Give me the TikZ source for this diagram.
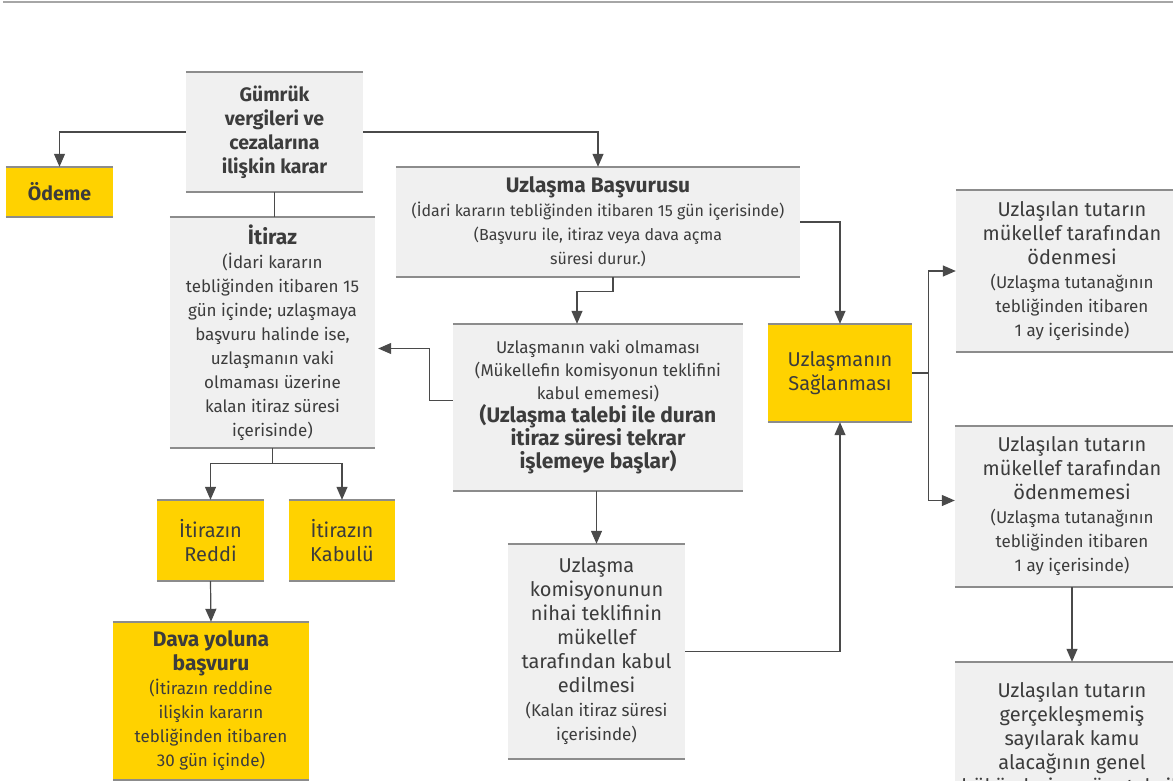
\documentclass[tikz,border=0pt]{standalone}
\usepackage{fontspec}
\setmainfont{Fira Sans}
\usetikzlibrary{positioning, arrows.meta, calc}

\definecolor{kutugri}{HTML}{F0F0F0}
\definecolor{sarirenk}{HTML}{FFD200}
\definecolor{yazi}{HTML}{3C3C3C}
\definecolor{cizgi}{HTML}{4A4A4A}
\definecolor{kenarrenk}{HTML}{8C8C8C}

\newcommand{\kck}{\fontsize{16}{24}\selectfont}
\newcommand{\orta}{\fontsize{17}{24}\selectfont}
\newcommand{\byk}{\fontsize{20}{24}\selectfont}
\newcommand{\baslik}{\fontsize{21}{24}\selectfont\bfseries}
\newcommand{\ustbaslik}{\fontsize{19.5}{24}\selectfont\bfseries}

\begin{document}
\begin{tikzpicture}[x=1pt, y=-1pt,
    kutu/.style={fill=kutugri, text=yazi, align=center, inner sep=0pt, font=\orta},
    sarikutu/.style={kutu, fill=sarirenk},
    ok/.style={draw=cizgi, line width=1.2pt, -{Triangle[length=13pt,width=11pt]}},
    hat/.style={draw=cizgi, line width=1.2pt},
    kenar/.style={draw=kenarrenk, line width=2pt}]

    \clip (0,0) rectangle (1173,781);
    \draw[draw=gray!70, line width=2pt] (3,2) -- (1173,2);

    % kutular
    \node[kutu, font=\ustbaslik, minimum width=177pt, minimum height=120pt] (karar) at (274.5,132) {Gümrük\\vergileri ve\\cezalarına\\ilişkin karar};
    \node[sarikutu, font=\ustbaslik, minimum width=107pt, minimum height=50pt] (odeme) at (59.5,192) {Ödeme};
    \node[kutu, font=\kck, minimum width=404pt, minimum height=110pt] (basvuru) at (598,222) {{\baslik Uzlaşma Başvurusu}\\(İdari kararın tebliğinden itibaren 15 gün içerisinde)\\(Başvuru ile, itiraz veya dava açma\\süresi durur.)};
    \node[kutu, minimum width=205pt, minimum height=231pt] (itiraz) at (272.5,332.5) {{\baslik İtiraz}\\(İdari kararın\\tebliğinden itibaren 15\\gün içinde; uzlaşmaya\\başvuru halinde ise,\\uzlaşmanın vaki\\olmaması üzerine\\kalan itiraz süresi\\içerisinde)};
    \node[kutu, font=\fontsize{17}{23}\selectfont, minimum width=290pt, minimum height=167pt] (vaki) at (598,407.5) {Uzlaşmanın vaki olmaması\\(Mükellefin komisyonun teklifini\\kabul ememesi)\\{\baslik (Uzlaşma talebi ile duran}\\{\baslik itiraz süresi tekrar}\\{\baslik işlemeye başlar)}};
    \node[sarikutu, font=\byk, minimum width=144pt, minimum height=98pt] (saglanma) at (840,373) {Uzlaşmanın\\Sağlanması};
    \node[kutu, font=\byk, minimum width=232pt, minimum height=162pt] (odenmesi) at (1072,271) {Uzlaşılan tutarın\\mükellef tarafından\\ödenmesi\\{\orta (Uzlaşma tutanağının}\\{\orta tebliğinden itibaren}\\{\orta 1 ay içerisinde)}};
    \node[kutu, font=\byk, minimum width=234pt, minimum height=161pt] (odenmemesi) at (1072,506.5) {Uzlaşılan tutarın\\mükellef tarafından\\ödenmemesi\\{\orta (Uzlaşma tutanağının}\\{\orta tebliğinden itibaren}\\{\orta 1 ay içerisinde)}};
    \node[kutu, font=\byk, minimum width=234pt, minimum height=156pt] (gercek) at (1072,740) {Uzlaşılan tutarın\\gerçekleşmemiş\\sayılarak kamu\\alacağının genel\\hükümlerine göre tahsili};
    \node[sarikutu, font=\byk, minimum width=107pt, minimum height=81pt] (reddi) at (210.5,540.5) {İtirazın\\Reddi};
    \node[sarikutu, font=\byk, minimum width=106pt, minimum height=81pt] (kabulu) at (342,540.5) {İtirazın\\Kabulü};
    \node[sarikutu, minimum width=196pt, minimum height=158pt] (dava) at (211,701) {{\baslik Dava yoluna}\\{\baslik başvuru}\\(İtirazın reddine\\ilişkin kararın\\tebliğinden itibaren\\30 gün içinde)};
    \node[kutu, font=\byk, minimum width=177pt, minimum height=215pt] (nihai) at (596.5,651.5) {Uzlaşma\\komisyonunun\\nihai teklifinin\\mükellef\\tarafından kabul\\edilmesi\\{\orta (Kalan itiraz süresi}\\{\orta içerisinde)}};

    % ust ve alt kenarlar
    \foreach \n in {karar,odeme,basvuru,itiraz,vaki,saglanma,odenmesi,odenmemesi,gercek,reddi,kabulu,dava,nihai}
        \draw[kenar] (\n.north west) -- (\n.north east) (\n.south west) -- (\n.south east);

    % baglantilar
    \draw[ok] (karar.west) -| (odeme.north);
    \draw[ok] (karar.east) -| (basvuru.north);
    \draw[hat] (karar.south) -- (karar.south |- itiraz.north);
    \draw[ok] ($(basvuru.south)+(15,0)$) -- ++(0,14) -| ($(vaki.north)+(-21,0)$);
    \draw[ok, shorten >=3pt] ($(vaki.west)+(0,-7)$) -- ++(-23,0) |- ($(itiraz.east)+(0,16)$);
    \draw[ok] (basvuru.east) -| (saglanma.north);
    \coordinate (kol) at ($(saglanma.east)+(16,0)$);
    \draw[hat] (saglanma.east) -- (kol);
    \draw[ok] (kol) |- (odenmesi.west);
    \draw[ok] (kol) |- ($(odenmemesi.west)+(0,-6)$);
    \draw[ok] (odenmemesi.south) -- (gercek.north);
    \draw[hat] (itiraz.south) -- ++(0,15) coordinate (catal);
    \draw[ok] (catal) -| (reddi.north);
    \draw[ok] (catal) -| (kabulu.north);
    \draw[ok] (reddi.south) -- (dava.north);
    \draw[ok] (vaki.south -| nihai.north) -- (nihai.north);
    \draw[ok] (nihai.east) -| (saglanma.south);
\end{tikzpicture}
\end{document}
